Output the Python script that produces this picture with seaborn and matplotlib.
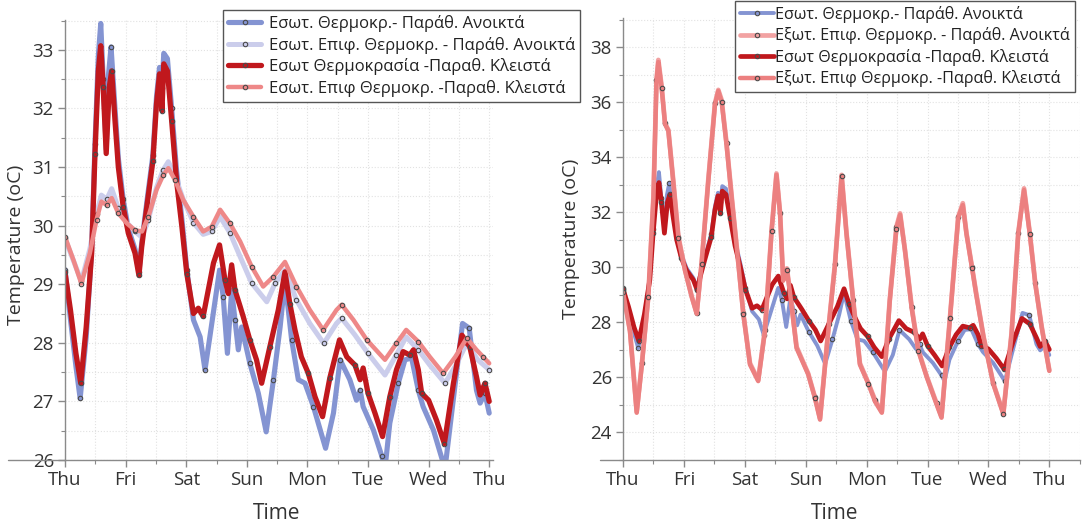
import matplotlib
matplotlib.use("Agg")
import matplotlib.pyplot as plt
from matplotlib.ticker import MultipleLocator, FixedLocator
import seaborn as sns
import pandas as pd

# ---------------- data (time in days since Thursday 00:00, temperature in oC) ----------------
day_labels = ["Thu", "Fri", "Sat", "Sun", "Mon", "Tue", "Wed", "Thu"]

# Indoor air temperature, shutters open (blue)
t_air_open = [0, 0.09, 0.18, 0.25, 0.35, 0.44, 0.495, 0.55, 0.59, 0.63,
              0.68, 0.72, 0.76, 0.825, 0.88, 0.96, 1.045, 1.155, 1.22, 1.265,
              1.35, 1.45, 1.51, 1.56, 1.6, 1.63, 1.69, 1.76, 1.84, 1.93,
              2.01, 2.12, 2.23, 2.31, 2.39, 2.55, 2.61, 2.68, 2.75, 2.805,
              2.86, 2.915, 3.05, 3.19, 3.32, 3.44, 3.55, 3.63, 3.74, 3.85,
              3.96, 4.1, 4.3, 4.43, 4.54, 4.7, 4.81, 4.87, 4.92, 5.09,
              5.23, 5.28, 5.36, 5.5, 5.61, 5.72, 5.83, 5.91, 6.08, 6.27,
              6.44, 6.56, 6.67, 6.79, 6.85, 6.93, 7.0]
air_open = [29.25, 28.4, 27.6, 27.05, 28.1, 29.6, 31.4, 32.9, 33.45, 32.5,
            31.3, 32.6, 33.05, 32.0, 31.15, 30.45, 29.95, 29.6, 29.2, 29.7,
            30.4, 31.2, 32.2, 32.7, 32.35, 32.94, 32.85, 32.0, 30.95, 30.1,
            29.25, 28.39, 28.1, 27.54, 28.1, 29.24, 28.79, 27.82, 28.9, 28.39,
            27.88, 28.27, 27.65, 27.14, 26.48, 27.37, 28.27, 29.07, 28.05, 27.37,
            27.31, 26.91, 26.2, 26.8, 27.71, 27.37, 27.02, 27.19, 26.91, 26.51,
            26.06, 25.85, 26.63, 27.31, 27.71, 27.74, 27.19, 26.91, 26.51, 25.85,
            27.31, 28.33, 28.25, 27.19, 26.97, 27.14, 26.8]

# Indoor surface temperature, shutters open (lavender)
t_surf_open = [0, 0.14, 0.27, 0.41, 0.52, 0.6, 0.69, 0.77, 0.88, 1.02,
               1.155, 1.27, 1.375, 1.51, 1.62, 1.705, 1.815, 1.95, 2.12, 2.28,
               2.42, 2.56, 2.72, 2.89, 3.08, 3.33, 3.47, 3.63, 3.82, 4.04,
               4.27, 4.48, 4.565, 4.78, 5.0, 5.28, 5.47, 5.63, 5.83, 6.02,
               6.27, 6.44, 6.63, 6.81, 7.0]
surf_open = [29.78, 29.4, 29.05, 29.6, 30.2, 30.52, 30.45, 30.63, 30.3, 30.05,
             29.9, 29.8, 30.1, 30.65, 30.95, 31.09, 30.85, 30.45, 30.05, 29.85,
             29.9, 30.15, 29.88, 29.47, 29.02, 28.7, 29.02, 29.24, 28.73, 28.33,
             27.99, 28.33, 28.42, 28.14, 27.82, 27.45, 27.8, 28.1, 27.88, 27.62,
             27.31, 27.6, 27.99, 27.71, 27.54]

# Indoor air temperature, shutters closed (dark red)
t_air_closed = [0, 0.09, 0.18, 0.26, 0.35, 0.44, 0.495, 0.55, 0.59, 0.63,
                0.68, 0.73, 0.77, 0.825, 0.88, 0.96, 1.045, 1.155, 1.22, 1.265,
                1.35, 1.45, 1.51, 1.56, 1.6, 1.63, 1.69, 1.76, 1.84, 1.93,
                2.01, 2.12, 2.2, 2.28, 2.45, 2.55, 2.64, 2.695, 2.75, 2.805,
                2.89, 2.94, 3.05, 3.16, 3.245, 3.38, 3.52, 3.63, 3.71, 3.795,
                3.9, 4.015, 4.125, 4.25, 4.37, 4.53, 4.65, 4.785, 4.87, 4.92,
                5.0, 5.115, 5.24, 5.36, 5.47, 5.58, 5.69, 5.75, 5.83, 5.885,
                6.0, 6.13, 6.26, 6.41, 6.55, 6.68, 6.79, 6.85, 6.93, 7.0]
air_closed = [29.2, 28.56, 27.82, 27.31, 28.27, 29.53, 31.23, 32.64, 33.07, 32.36,
              31.23, 32.36, 32.64, 31.79, 31.0, 30.32, 29.87, 29.53, 29.15, 29.63,
              30.32, 31.1, 32.08, 32.59, 31.96, 32.76, 32.64, 31.79, 30.77, 29.97,
              29.18, 28.5, 28.59, 28.45, 29.36, 29.67, 29.07, 28.84, 29.33, 28.9,
              28.62, 28.45, 28.05, 27.71, 27.31, 27.93, 28.56, 29.21, 28.67, 28.22,
              27.76, 27.48, 27.08, 26.74, 27.4, 28.05, 27.76, 27.62, 27.37, 27.57,
              27.14, 26.8, 26.4, 27.08, 27.54, 27.85, 27.79, 27.88, 27.54, 27.14,
              27.02, 26.68, 26.28, 27.31, 28.13, 27.93, 27.42, 27.11, 27.31, 27.0]

# Indoor surface temperature, shutters closed (pink)
t_surf_closed = [0, 0.14, 0.27, 0.41, 0.52, 0.6, 0.69, 0.77, 0.88, 1.02,
                 1.155, 1.27, 1.375, 1.51, 1.62, 1.705, 1.815, 1.95, 2.12, 2.28,
                 2.42, 2.56, 2.72, 2.89, 3.08, 3.27, 3.44, 3.63, 3.82, 4.04,
                 4.26, 4.48, 4.565, 4.76, 4.98, 5.28, 5.47, 5.63, 5.83, 6.02,
                 6.24, 6.44, 6.63, 6.79, 6.9, 7.0]
surf_closed = [29.81, 29.41, 29.01, 29.53, 30.1, 30.41, 30.35, 30.47, 30.21, 30.04,
               29.92, 29.9, 30.15, 30.61, 30.86, 30.98, 30.78, 30.44, 30.15, 29.9,
               29.98, 30.27, 30.04, 29.73, 29.3, 28.96, 29.13, 29.38, 28.96, 28.56,
               28.22, 28.56, 28.65, 28.39, 28.05, 27.71, 27.99, 28.22, 28.02, 27.76,
               27.48, 27.76, 28.08, 27.88, 27.76, 27.65]

# Outer surface temperature (open and closed shutters, nearly coincident)
t_outer = [0, 0.115, 0.225, 0.31, 0.415, 0.5, 0.55, 0.58, 0.635, 0.69,
           0.745, 0.825, 0.91, 1.02, 1.13, 1.21, 1.29, 1.4, 1.51, 1.565,
           1.62, 1.7, 1.785, 1.895, 1.975, 2.085, 2.22, 2.33, 2.44, 2.52,
           2.58, 2.63, 2.69, 2.74, 2.85, 3.04, 3.15, 3.235, 3.37, 3.48,
           3.59, 3.67, 3.78, 3.89, 4.03, 4.14, 4.25, 4.38, 4.49, 4.55,
           4.63, 4.74, 4.85, 4.99, 5.15, 5.23, 5.37, 5.505, 5.58, 5.64,
           5.73, 5.8, 5.92, 6.08, 6.245, 6.38, 6.49, 6.585, 6.68, 6.77,
           6.875, 7.0]
outer_open = [29.16, 27.7, 24.74, 26.5, 28.92, 32.56, 36.8, 37.53, 36.56, 35.22,
              34.98, 33.16, 31.1, 29.89, 28.92, 28.32, 30.13, 33.16, 35.95, 36.44,
              36.07, 34.5, 32.56, 30.13, 28.32, 26.5, 25.89, 27.7, 31.35, 33.4,
              31.95, 29.53, 29.95, 29.16, 27.1, 26.13, 25.28, 24.5, 27.7, 30.1,
              33.35, 31.23, 28.8, 26.5, 25.77, 25.16, 24.74, 28.8, 31.47, 31.95,
              30.62, 28.56, 26.98, 26.01, 25.04, 24.56, 28.19, 31.83, 32.32, 31.23,
              30.01, 29.04, 27.47, 25.77, 24.68, 27.59, 31.23, 32.86, 31.23, 29.41,
              27.83, 26.25]
outer_closed = [29.1, 27.65, 24.7, 26.45, 28.9, 32.5, 36.75, 37.45, 36.5, 35.2,
                34.95, 33.1, 31.05, 29.85, 28.9, 28.3, 30.1, 33.1, 35.9, 36.4,
                36.0, 34.45, 32.5, 30.1, 28.3, 26.45, 25.85, 27.65, 31.3, 33.35,
                31.9, 29.5, 29.9, 29.1, 27.05, 26.1, 25.25, 24.45, 27.65, 30.05,
                33.3, 31.2, 28.75, 26.45, 25.75, 25.1, 24.7, 28.75, 31.4, 31.9,
                30.6, 28.5, 26.95, 25.98, 25.0, 24.52, 28.15, 31.8, 32.25, 31.2,
                29.98, 29.0, 27.45, 25.75, 24.65, 27.55, 31.2, 32.8, 31.2, 29.38,
                27.8, 26.22]

lab_left = ["Εσωτ. Θερμοκρ.- Παράθ. Ανοικτά",
            "Εσωτ. Επιφ. Θερμοκρ. - Παράθ. Ανοικτά",
            "Εσωτ Θερμοκρασία -Παραθ. Κλειστά",
            "Εσωτ. Επιφ Θερμοκρ. -Παραθ. Κλειστά"]
lab_right = ["Εσωτ. Θερμοκρ.- Παράθ. Ανοικτά",
             "Εξωτ. Επιφ. Θερμοκρ. - Παράθ. Ανοικτά",
             "Εσωτ Θερμοκρασία -Παραθ. Κλειστά",
             "Εξωτ. Επιφ Θερμοκρ. -Παραθ. Κλειστά"]

# ---------------- style ----------------
sns.set_style("white")
plt.rcParams["font.family"] = ["Open Sans", "DejaVu Sans"]
TXT = "#333333"
SPINE = "#8a8a8a"

C_BLUE = "#8494D2"
C_LAV = "#CBCDEB"
C_RED = "#C0181D"
C_PINK = "#EE8888"
C_PINK2 = "#F2A2A2"
C_PINK3 = "#EC8080"

fig = plt.figure(figsize=(10.82, 5.22), dpi=100)
W, H = 1082.0, 522.0
ax1 = fig.add_axes([65 / W, 1 - 460 / H, (493 - 65) / W, (460 - 20) / H])
ax2 = fig.add_axes([623 / W, 1 - 460 / H, (1080 - 623) / W, (460 - 18) / H])

mk = dict(marker="o", markersize=3.2, markerfacecolor="none",
          markeredgecolor="#4a4a4a", markeredgewidth=0.8)


def draw(ax, t, y, color, lw, label, every):
    df = pd.DataFrame({"t": t, "T": y})
    sns.lineplot(data=df, x="t", y="T", ax=ax, color=color, linewidth=lw,
                 label=label, estimator=None, sort=False, markevery=every,
                 solid_joinstyle="round", solid_capstyle="round", **mk)


# left panel
draw(ax1, t_air_open, air_open, C_BLUE, 3.7, lab_left[0], 3)
draw(ax1, t_surf_open, surf_open, C_LAV, 3.6, lab_left[1], 2)
draw(ax1, t_air_closed, air_closed, C_RED, 3.8, lab_left[2], 3)
draw(ax1, t_surf_closed, surf_closed, C_PINK, 3.2, lab_left[3], 2)

# right panel
draw(ax2, t_air_open, air_open, C_BLUE, 2.8, lab_right[0], 3)
draw(ax2, t_outer, outer_open, C_PINK2, 3.4, lab_right[1], 3)
draw(ax2, t_air_closed, air_closed, C_RED, 3.4, lab_right[2], 3)
draw(ax2, t_outer, outer_closed, C_PINK3, 3.2, lab_right[3], 4)

ax1.set_xlim(0, (493 - 65) / 60.6)
ax1.set_ylim(26, 26 + 440 / 58.6)
ax2.set_xlim(0, (1080 - 623) / 60.9)
ax2.set_ylim(24 - 28 / 27.5, 24 + 414 / 27.5)

ax1.yaxis.set_major_locator(MultipleLocator(1))
ax1.yaxis.set_minor_locator(MultipleLocator(0.5))
ax2.yaxis.set_major_locator(FixedLocator([24, 26, 28, 30, 32, 34, 36, 38]))
ax2.yaxis.set_minor_locator(MultipleLocator(1))

for ax, ext in ((ax1, -57 / 428), (ax2, -23 / 457)):
    ax.xaxis.set_major_locator(FixedLocator(range(len(day_labels))))
    ax.set_xticklabels(day_labels)
    ax.xaxis.set_minor_locator(MultipleLocator(0.5))
    for s in ("top", "right"):
        ax.spines[s].set_visible(False)
    for s in ("left", "bottom"):
        ax.spines[s].set_color(SPINE)
        ax.spines[s].set_linewidth(1.0)
    ax.tick_params(axis="both", which="major", length=5, width=1, color=SPINE,
                   labelsize=13.5, labelcolor=TXT, direction="out", pad=3)
    ax.tick_params(axis="both", which="minor", length=3, width=0.8, color=SPINE,
                   direction="out")
    ax.tick_params(axis="x", which="both", bottom=True)
    ax.tick_params(axis="y", which="both", left=True)
    ax.grid(True, which="both", color="#e2e2e2", linestyle=":", linewidth=0.8)
    ax.set_axisbelow(True)
    ax.plot([ext, 0], [0, 0], transform=ax.transAxes, clip_on=False,
            color=SPINE, linewidth=1.0)
    ax.set_xlabel("Time", fontsize=15, color=TXT)
    ax.set_ylabel("Temperature (oC)", fontsize=14, color=TXT)

ax1.xaxis.set_label_coords(0.495, -43 / 440)
ax2.xaxis.set_label_coords(0.464, -43 / 442)
ax1.yaxis.set_label_coords(-0.093, 0.49)
ax2.yaxis.set_label_coords(-0.094, 0.50)

leg1 = ax1.legend(loc="upper left", bbox_to_anchor=(223 / W, 1 - 10 / H),
                  bbox_transform=fig.transFigure, borderaxespad=0, fontsize=12,
                  frameon=True, fancybox=False, edgecolor="#555555",
                  framealpha=1, handlelength=2.0, handletextpad=0.45,
                  labelspacing=0.28, borderpad=0.3)
leg1.get_frame().set_linewidth(1.0)
for txt in leg1.get_texts():
    txt.set_color("#222222")

leg2 = ax2.legend(loc="upper left", bbox_to_anchor=(735 / W, 1 - 1 / H),
                  bbox_transform=fig.transFigure, borderaxespad=0, fontsize=11.6,
                  frameon=True, fancybox=False, edgecolor="#555555",
                  framealpha=1, handlelength=2.1, handletextpad=0.1,
                  labelspacing=0.28, borderpad=0.3)
leg2.get_frame().set_linewidth(1.0)
for txt in leg2.get_texts():
    txt.set_color("#222222")

fig.savefig("out.png", dpi=100)
